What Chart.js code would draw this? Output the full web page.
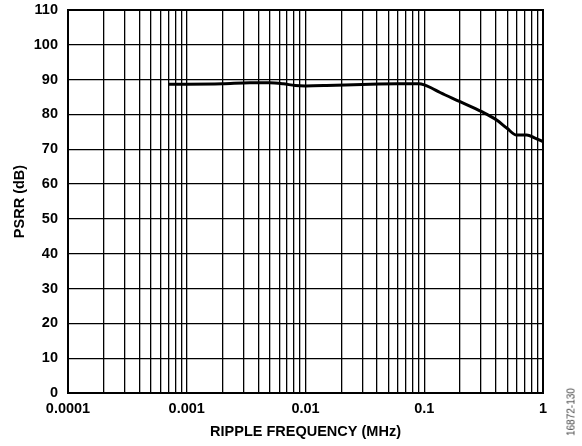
<!DOCTYPE html>
<html>
<head>
<meta charset="utf-8">
<script src="https://cdn.jsdelivr.net/npm/chart.js@4/dist/chart.umd.min.js"></script>
<style>
  html, body { margin: 0; padding: 0; background: #fff; }
  #wrap { position: relative; width: 582px; height: 446px; }
  #figId {
    position: absolute; left: 571px; top: 412px;
    transform: translate(-50%, -50%) rotate(-90deg);
    font: 10px "Liberation Sans", Arial, sans-serif; color: #444; white-space: nowrap;
  }
</style>
</head>
<body>
<div id="wrap">
  <canvas id="psrr" width="582" height="446"></canvas>
  <div id="figId">16872-130</div>
</div>
<script>
// PSRR vs ripple frequency
const freqMHz = [0.0007, 0.001, 0.002, 0.0034, 0.005, 0.0065, 0.0082, 0.01, 0.015, 0.03, 0.06, 0.09, 0.1,
                 0.115, 0.136, 0.2, 0.305, 0.407, 0.495, 0.6, 0.73, 0.857, 1];
const psrrDb = [88.7, 88.7, 88.8, 89.1, 89.1, 88.8, 88.3, 88.2, 88.3, 88.6, 88.8, 88.8, 88.5,
                87.6, 86.3, 83.7, 80.8, 78.4, 76.1, 74.1, 74.1, 73.2, 72.2];

const xDecades = [0.0001, 0.001, 0.01, 0.1, 1];
const xDecadeLabels = ['0.0001', '0.001', '0.01', '0.1', '1'];
const yTicks = [0, 10, 20, 30, 40, 50, 60, 70, 80, 90, 100, 110];

// log grid: 1..9 in every decade
const xGrid = [];
xDecades.slice(0, -1).forEach(d => {
    for (let m = 1; m < 10; m++) xGrid.push(+(d * m).toPrecision(3));
});
xGrid.push(1);

const tickFont = { family: '"Liberation Sans", Arial, sans-serif', size: 14.5, weight: 'bold' };

// heavier frame round the plot
const frame = {
    id: 'frame',
    afterDraw(chart) {
        const a = chart.chartArea, c = chart.ctx;
        c.save();
        c.strokeStyle = '#000';
        c.lineWidth = 2;
        c.strokeRect(a.left, a.top, a.right - a.left, a.bottom - a.top);
        c.restore();
    }
};

const ctx = document.getElementById('psrr').getContext('2d');
const psrrChart = new Chart(ctx, {
    type: 'line',
    data: {
        datasets: [{
            data: freqMHz.map((f, i) => ({ x: f, y: psrrDb[i] })),
            borderColor: '#000',
            borderWidth: 3,
            pointRadius: 0,
            cubicInterpolationMode: 'monotone',
            fill: false
        }]
    },
    options: {
        responsive: false,
        animation: false,
        layout: { padding: { top: 10, right: 39, left: 0, bottom: 0 } },
        plugins: { legend: { display: false }, tooltip: { enabled: false } },
        scales: {
            x: {
                type: 'logarithmic',
                min: 0.0001,
                max: 1,
                afterBuildTicks: s => { s.ticks = xGrid.map(v => ({ value: v })); },
                afterFit: s => { s.height = 53; s.paddingLeft = 0; s.paddingRight = 0; },
                grid: { color: '#000', lineWidth: 1.3, drawTicks: false },
                border: { color: '#000', width: 2 },
                ticks: {
                    autoSkip: false,
                    maxRotation: 0,
                    padding: 7,
                    color: '#000',
                    font: tickFont,
                    callback: v => {
                        const i = xDecades.findIndex(d => Math.abs(d - v) / d < 1e-6);
                        return i >= 0 ? xDecadeLabels[i] : '';
                    }
                },
                title: {
                    display: true,
                    text: 'RIPPLE FREQUENCY (MHz)',
                    color: '#000',
                    font: tickFont,
                    padding: { top: 0, bottom: 5 }
                }
            },
            y: {
                min: 0,
                max: 110,
                afterBuildTicks: s => { s.ticks = yTicks.map(v => ({ value: v })); },
                afterFit: s => { s.width = 68; s.paddingTop = 0; s.paddingBottom = 0; },
                grid: { color: '#000', lineWidth: 1.3, drawTicks: false },
                border: { color: '#000', width: 2 },
                ticks: { padding: 10, color: '#000', font: tickFont },
                title: {
                    display: true,
                    text: 'PSRR (dB)',
                    color: '#000',
                    font: tickFont,
                    padding: { top: 11, bottom: 0 }
                }
            }
        }
    },
    plugins: [frame]
});
</script>
</body>
</html>
